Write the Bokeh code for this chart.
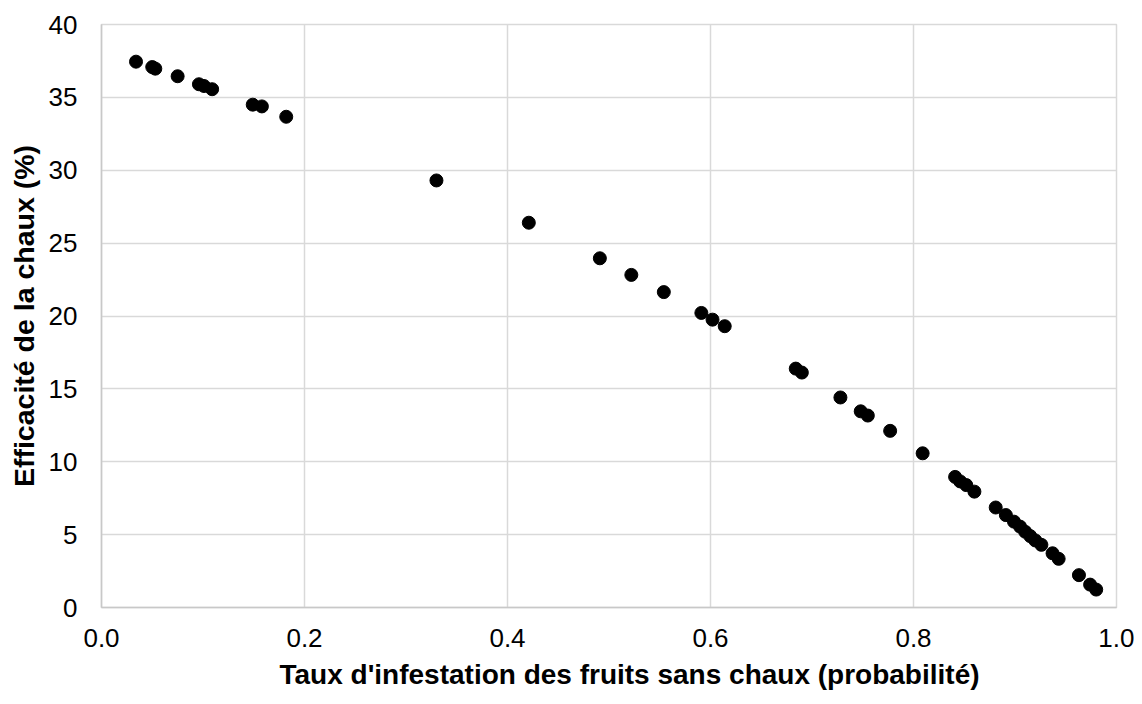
from bokeh.plotting import figure
from bokeh.models import ColumnDataSource, FixedTicker, NumeralTickFormatter, Range1d, Title
from bokeh.embed import file_html
from bokeh.resources import INLINE

# Data
infestation = [0.034, 0.050, 0.053, 0.075, 0.096, 0.101, 0.109, 0.149, 0.158, 0.182,
               0.330, 0.421, 0.491, 0.522, 0.554, 0.591, 0.602, 0.614, 0.684, 0.690,
               0.728, 0.748, 0.755, 0.777, 0.809, 0.841, 0.846, 0.852, 0.860, 0.881,
               0.891, 0.899, 0.905, 0.910, 0.915, 0.920, 0.926, 0.937, 0.943, 0.963,
               0.974, 0.980]
efficacite = [37.45, 37.08, 36.97, 36.45, 35.90, 35.78, 35.56, 34.50, 34.38, 33.67,
              29.30, 26.40, 23.96, 22.82, 21.64, 20.21, 19.75, 19.30, 16.39, 16.12,
              14.41, 13.46, 13.17, 12.12, 10.58, 8.96, 8.65, 8.40, 7.95, 6.86,
              6.34, 5.89, 5.55, 5.20, 4.90, 4.60, 4.30, 3.72, 3.34, 2.22,
              1.57, 1.23]
x_ticks = [0.0, 0.2, 0.4, 0.6, 0.8, 1.0]
y_ticks = [0, 5, 10, 15, 20, 25, 30, 35, 40]
x_title = "Taux d'infestation des fruits sans chaux (probabilité)"
y_title = "Efficacité de la chaux (%)"

source = ColumnDataSource(data=dict(x=infestation, y=efficacite))

p = figure(width=1134, height=696, output_backend="svg", toolbar_location=None,
           x_range=Range1d(0, 1), y_range=Range1d(0, 40),
           min_border_left=101, min_border_right=18, min_border_top=24, min_border_bottom=86)

p.scatter("x", "y", source=source, size=13, color="black", line_color="black")

grid_col = "#d9d9d9"
p.outline_line_color = grid_col
p.outline_line_width = 1.5

for ax in (p.xaxis[0], p.yaxis[0]):
    ax.major_tick_out = 0
    ax.major_tick_in = 0
    ax.minor_tick_out = 0
    ax.minor_tick_in = 0
    ax.axis_line_color = "#c8c8c8"
    ax.axis_line_width = 1.5
    ax.major_label_text_font = "Liberation Sans"
    ax.major_label_text_font_size = "26px"
    ax.major_label_text_color = "black"
    ax.axis_label_text_font = "Liberation Sans"
    ax.axis_label_text_font_size = "28.5px"
    ax.axis_label_text_font_style = "bold"
    ax.axis_label_text_color = "black"

p.xaxis.ticker = FixedTicker(ticks=x_ticks)
p.xaxis.formatter = NumeralTickFormatter(format="0.0")
p.yaxis.ticker = FixedTicker(ticks=y_ticks)
p.yaxis.axis_label = y_title
p.xaxis.major_label_standoff = 21
p.yaxis.major_label_standoff = 24
p.yaxis.axis_label_standoff = 6

xt = Title(text=x_title, align="left", offset=178, standoff=14,
           text_font="Liberation Sans", text_font_size="28px",
           text_font_style="bold", text_color="black")
p.add_layout(xt, "below")

p.xgrid.grid_line_color = grid_col
p.ygrid.grid_line_color = grid_col
p.xgrid.grid_line_width = 1.5
p.ygrid.grid_line_width = 1.5

open("out.html", "w").write(file_html(p, INLINE))
